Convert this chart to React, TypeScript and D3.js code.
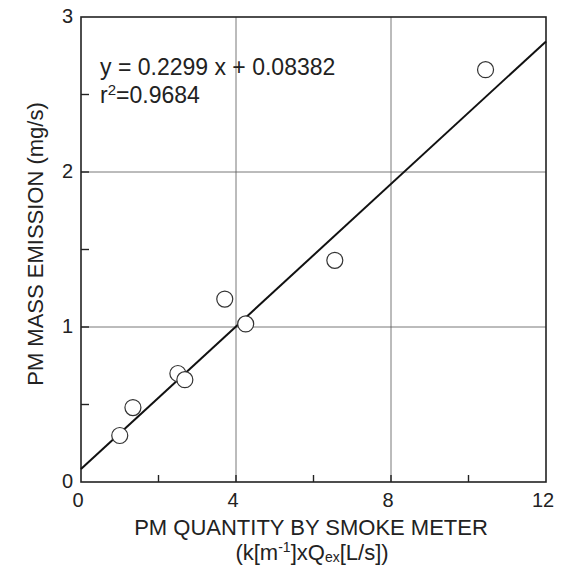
import React, { useEffect, useRef } from "react";
import * as d3 from "d3";

const pmQuantity = [1.0, 1.34, 2.5, 2.68, 3.71, 4.25, 6.55, 10.44];
const pmMass = [0.3, 0.48, 0.7, 0.66, 1.18, 1.02, 1.43, 2.66];
const xTicks = [0, 4, 8, 12];
const yTicks = [0, 1, 2, 3];
const xMinor = [2, 6, 10];
const yMinor = [0.5, 1.5, 2.5];
const slope = 0.2299;
const intercept = 0.08382;

const App = () => {
  const svgRef = useRef<SVGSVGElement>(null);
  const svgWidth = 570;
  const svgHeight = 565;

  useEffect(() => {
    const MARGIN = { TOP: 17, BOTTOM: 83, LEFT: 81, RIGHT: 24 };
    const WIDTH = svgWidth - MARGIN.LEFT - MARGIN.RIGHT;
    const HEIGHT = svgHeight - MARGIN.TOP - MARGIN.BOTTOM;
    const font = "'Liberation Sans', Arial, sans-serif";

    const svg = d3.select(svgRef.current);
    svg.selectAll("*").remove();
    svg.append("rect").attr("width", svgWidth).attr("height", svgHeight).attr("fill", "#fff");

    const g = svg.append("g").attr("transform", `translate(${MARGIN.LEFT}, ${MARGIN.TOP})`);

    const x = d3.scaleLinear().domain([0, 12]).range([0, WIDTH]);
    const y = d3.scaleLinear().domain([0, 3]).range([HEIGHT, 0]);

    // grid
    g.selectAll(".gx")
      .data([4, 8])
      .enter()
      .append("line")
      .attr("x1", (d) => x(d))
      .attr("x2", (d) => x(d))
      .attr("y1", 0)
      .attr("y2", HEIGHT)
      .attr("stroke", "#555")
      .attr("stroke-width", 0.8);
    g.selectAll(".gy")
      .data([1, 2])
      .enter()
      .append("line")
      .attr("y1", (d) => y(d))
      .attr("y2", (d) => y(d))
      .attr("x1", 0)
      .attr("x2", WIDTH)
      .attr("stroke", "#555")
      .attr("stroke-width", 0.8);

    // inward ticks
    const tickColor = "#222";
    g.selectAll(".tx")
      .data([...xMinor, 4, 8])
      .enter()
      .append("line")
      .attr("x1", (d) => x(d))
      .attr("x2", (d) => x(d))
      .attr("y1", HEIGHT)
      .attr("y2", HEIGHT - 7)
      .attr("stroke", tickColor)
      .attr("stroke-width", 1.4);
    g.selectAll(".ty")
      .data([...yMinor, 1, 2])
      .enter()
      .append("line")
      .attr("y1", (d) => y(d))
      .attr("y2", (d) => y(d))
      .attr("x1", 0)
      .attr("x2", 8)
      .attr("stroke", tickColor)
      .attr("stroke-width", 1.4);

    // frame
    g.append("rect")
      .attr("width", WIDTH)
      .attr("height", HEIGHT)
      .attr("fill", "none")
      .attr("stroke", "#222")
      .attr("stroke-width", 1.6);

    // tick labels
    g.selectAll(".lx")
      .data(xTicks)
      .enter()
      .append("text")
      .attr("x", (d) => x(d) - 3)
      .attr("y", HEIGHT + 25)
      .attr("text-anchor", "middle")
      .attr("font-family", font)
      .attr("font-size", 20)
      .attr("fill", "#222")
      .text((d) => d);
    g.selectAll(".ly")
      .data(yTicks)
      .enter()
      .append("text")
      .attr("x", -8)
      .attr("y", (d) => y(d) + 6)
      .attr("text-anchor", "end")
      .attr("font-family", font)
      .attr("font-size", 20)
      .attr("fill", "#222")
      .text((d) => d);

    // regression line
    const line = d3
      .line<number>()
      .x((d) => x(d))
      .y((d) => y(slope * d + intercept));
    g.append("path")
      .datum([0, 12])
      .attr("d", line)
      .attr("fill", "none")
      .attr("stroke", "#111")
      .attr("stroke-width", 2);

    // points
    g.selectAll("circle")
      .data(pmQuantity)
      .enter()
      .append("circle")
      .attr("cx", (d) => x(d))
      .attr("cy", (_, i) => y(pmMass[i]))
      .attr("r", 8)
      .attr("fill", "#fff")
      .attr("stroke", "#333")
      .attr("stroke-width", 1.2);

    // equation
    g.append("text")
      .attr("x", 19)
      .attr("y", 58)
      .attr("font-family", font)
      .attr("font-size", 23)
      .attr("fill", "#222")
      .text(`y = ${slope} x + ${intercept}`);
    const r2 = g
      .append("text")
      .attr("x", 19)
      .attr("y", 86)
      .attr("font-family", font)
      .attr("font-size", 23)
      .attr("fill", "#222");
    r2.append("tspan").text("r");
    r2.append("tspan").attr("font-size", 15).attr("dy", -8).text("2");
    r2.append("tspan").attr("dy", 8).text("=0.9684");

    // axis titles
    svg
      .append("text")
      .attr("x", 311)
      .attr("y", 535)
      .attr("text-anchor", "middle")
      .attr("font-family", font)
      .attr("font-size", 22)
      .attr("fill", "#222")
      .text("PM QUANTITY BY SMOKE METER");
    const sub = svg
      .append("text")
      .attr("x", 312)
      .attr("y", 560)
      .attr("text-anchor", "middle")
      .attr("font-family", font)
      .attr("font-size", 22)
      .attr("fill", "#222");
    sub.append("tspan").text("(k[m");
    sub.append("tspan").attr("font-size", 14).attr("dy", -8).text("-1");
    sub.append("tspan").attr("dy", 8).text("]xQ");
    sub.append("tspan").attr("font-size", 14).attr("dy", 2).text("ex");
    sub.append("tspan").attr("dy", -2).text("[L/s])");

    svg
      .append("text")
      .attr("transform", `translate(43, 244) rotate(-90)`)
      .attr("text-anchor", "middle")
      .attr("font-family", font)
      .attr("font-size", 22)
      .attr("fill", "#222")
      .text("PM MASS EMISSION (mg/s)");
  }, []);

  return (
    <svg
      ref={svgRef}
      width={svgWidth}
      height={svgHeight}
      style={{ position: "absolute", left: 0, top: 0 }}
    />
  );
};

export default App;
